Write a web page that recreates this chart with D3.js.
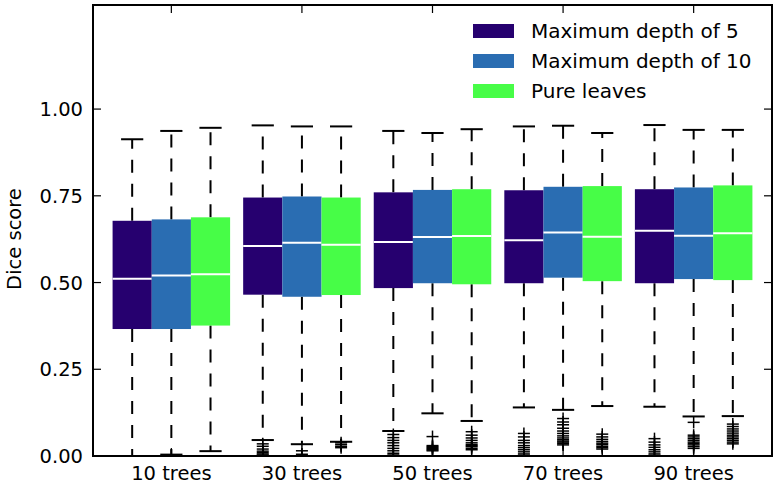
<!DOCTYPE html>
<html><head><meta charset="utf-8">
<script src="https://cdn.jsdelivr.net/npm/d3@7"></script>
<style>body{margin:0;background:#fff}svg{display:block}text{font-family:"DejaVu Sans",sans-serif}</style>
</head><body><svg id="c" width="783" height="487"></svg>
<script>
const categories = ["10 trees","30 trees","50 trees","70 trees","90 trees"];
const seriesNames = ["Maximum depth of 5","Maximum depth of 10","Pure leaves"];
const seriesColors = ["#26006f","#2a6db2","#47fd47"];
const yTicks = [0, 0.25, 0.5, 0.75, 1.0];
// [low whisker, q1, median, q3, high whisker] per category
const depth5Stats = [[0.0,0.366,0.511,0.678,0.913],[0.046,0.465,0.605,0.745,0.953],[0.072,0.484,0.617,0.760,0.937],[0.140,0.498,0.622,0.766,0.950],[0.142,0.498,0.649,0.769,0.954]];
const depth10Stats = [[0.004,0.366,0.520,0.682,0.937],[0.034,0.459,0.615,0.748,0.950],[0.123,0.498,0.631,0.767,0.931],[0.133,0.514,0.644,0.776,0.952],[0.114,0.510,0.635,0.774,0.940]];
const pureStats = [[0.014,0.376,0.524,0.688,0.946],[0.041,0.464,0.609,0.745,0.950],[0.101,0.495,0.634,0.769,0.942],[0.144,0.504,0.632,0.778,0.931],[0.115,0.507,0.642,0.780,0.940]];
const depth5Fliers = [[],[0.035,0.028,0.02,0.014,0.01,0.006,0.003,0.0],[0.062,0.053,0.045,0.038,0.03,0.022,0.015,0.008,0.003],[0.065,0.055,0.045,0.038,0.03,0.024,0.018,0.012,0.006,0.002],[0.05,0.04,0.032,0.025,0.018,0.012,0.006,0.002]];
const depth10Fliers = [[0.001],[0.015,0.005],[0.056,0.03,0.027,0.024,0.021,0.018,0.015],[0.108,0.098,0.09,0.08,0.072,0.065,0.058,0.052,0.047,0.043,0.04,0.036,0.032],[0.097,0.06,0.055,0.05,0.045,0.04,0.036,0.032,0.027,0.022]];
const pureFliers = [[],[0.038,0.033,0.028,0.024],[0.07,0.06,0.052,0.045,0.038,0.033,0.03,0.027,0.022,0.018],[0.063,0.055,0.048,0.042,0.037,0.033,0.028,0.024,0.02],[0.092,0.085,0.078,0.072,0.066,0.06,0.055,0.05,0.045,0.04,0.035]];

const stats = [depth5Stats, depth10Stats, pureStats];
const fliers = [depth5Fliers, depth10Fliers, pureFliers];
const offsets = [-0.3, 0, 0.3];
const boxW = 0.3, capW = 0.17;

const L=93, R=772, T=5, B=456;
const x = d3.scaleLinear().domain([0.4,5.6]).range([L,R]);
const y = d3.scaleLinear().domain([0,1.3]).range([B,T]);
const svg = d3.select("#c");
svg.append("defs").append("clipPath").attr("id","clip").append("rect")
  .attr("x",L).attr("y",T).attr("width",R-L).attr("height",B-T);
const g = svg.append("g").attr("clip-path","url(#clip)");

stats.forEach((ser, si) => {
  ser.forEach((s, ci) => {
    const [lo,q1,med,q3,hi] = s;
    const cx = ci + 1 + offsets[si];
    const px = x(cx);
    g.append("line").attr("x1",px).attr("x2",px).attr("y1",y(q3)).attr("y2",y(hi))
      .attr("stroke","#000").attr("stroke-width",2).attr("stroke-dasharray","13,11");
    g.append("line").attr("x1",px).attr("x2",px).attr("y1",y(q1)).attr("y2",y(lo))
      .attr("stroke","#000").attr("stroke-width",2).attr("stroke-dasharray","13,11");
    [lo,hi].forEach(v => g.append("line").attr("x1",x(cx-capW/2)).attr("x2",x(cx+capW/2))
      .attr("y1",y(v)).attr("y2",y(v)).attr("stroke","#000").attr("stroke-width",2));
    g.append("rect").attr("x",x(cx-boxW/2)).attr("width",x(cx+boxW/2)-x(cx-boxW/2))
      .attr("y",y(q3)).attr("height",y(q1)-y(q3)).attr("fill",seriesColors[si]);
    g.append("line").attr("x1",x(cx-boxW/2)).attr("x2",x(cx+boxW/2)).attr("y1",y(med)).attr("y2",y(med))
      .attr("stroke","#fff").attr("stroke-width",2);
    fliers[si][ci].forEach(v => {
      g.append("line").attr("x1",px-6).attr("x2",px+6).attr("y1",y(v)).attr("y2",y(v)).attr("stroke","#000").attr("stroke-width",1.5);
      g.append("line").attr("x1",px).attr("x2",px).attr("y1",y(v)-6).attr("y2",y(v)+6).attr("stroke","#000").attr("stroke-width",1.5);
    });
  });
});

// frame
svg.append("rect").attr("x",L).attr("y",T).attr("width",R-L).attr("height",B-T)
  .attr("fill","none").attr("stroke","#000").attr("stroke-width",2);
// ticks
const tl = 8;
categories.forEach((c,i) => {
  const px = x(i+1);
  svg.append("line").attr("x1",px).attr("x2",px).attr("y1",B).attr("y2",B-tl).attr("stroke","#000").attr("stroke-width",1.2);
  svg.append("line").attr("x1",px).attr("x2",px).attr("y1",T).attr("y2",T+tl).attr("stroke","#000").attr("stroke-width",1.2);
  svg.append("text").attr("x",px).attr("y",480).attr("text-anchor","middle").attr("font-size",19.5).text(c);
});
yTicks.forEach(v => {
  const py = y(v);
  svg.append("line").attr("x1",L).attr("x2",L+tl).attr("y1",py).attr("y2",py).attr("stroke","#000").attr("stroke-width",1.2);
  svg.append("line").attr("x1",R).attr("x2",R-tl).attr("y1",py).attr("y2",py).attr("stroke","#000").attr("stroke-width",1.2);
  svg.append("text").attr("x",83).attr("y",py).attr("dy","0.36em").attr("text-anchor","end").attr("font-size",19.5).text(v.toFixed(2));
});
svg.append("text").attr("transform","translate(21,239) rotate(-90)").attr("text-anchor","middle").attr("font-size",19.5).text("Dice score");

// legend
seriesNames.forEach((n,i) => {
  const cy = 31 + i*30;
  svg.append("rect").attr("x",473).attr("y",cy-7).attr("width",41).attr("height",14).attr("fill",seriesColors[i]);
  svg.append("text").attr("x",531).attr("y",cy).attr("dy","0.36em").attr("font-size",20).text(n);
});
</script></body></html>
